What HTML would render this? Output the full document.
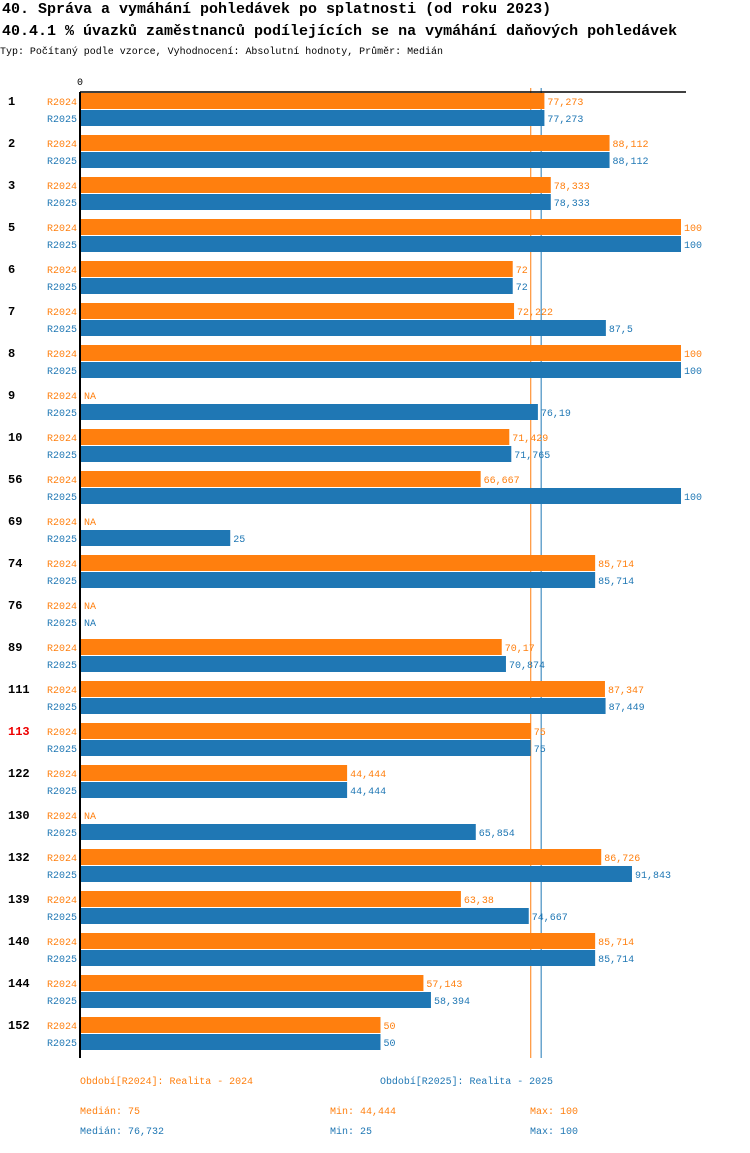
<!DOCTYPE html>
<html><head><meta charset="utf-8">
<style>
body{margin:0;background:#fff;}
svg text{font-family:"Liberation Mono","DejaVu Sans Mono",monospace;}
</style></head>
<body>
<svg id="chart" width="750" height="1148" xmlns="http://www.w3.org/2000/svg">
<text x="2" y="13" font-size="15" font-weight="bold">40. Správa a vymáhání pohledávek po splatnosti (od roku 2023)</text>
<text x="2" y="35" font-size="15" font-weight="bold">40.4.1 % úvazků zaměstnanců podílejících se na vymáhání daňových pohledávek</text>
<text x="0" y="54" font-size="10" textLength="443" lengthAdjust="spacingAndGlyphs">Typ: Počítaný podle vzorce, Vyhodnocení: Absolutní hodnoty, Průměr: Medián</text>
<text x="77" y="85" font-size="10">0</text>
<g id="medians"></g>
<g id="bars"></g>
<line x1="80" y1="92" x2="686" y2="92" stroke="#000" stroke-width="1.5"/>
<line x1="80" y1="92" x2="80" y2="1058" stroke="#000" stroke-width="2"/>
<g font-size="10">
<text x="80" y="1084" fill="#ff7f0e" textLength="173" lengthAdjust="spacingAndGlyphs">Období[R2024]: Realita - 2024</text>
<text x="380" y="1084" fill="#1f77b4" textLength="173" lengthAdjust="spacingAndGlyphs">Období[R2025]: Realita - 2025</text>
<text x="80" y="1114" fill="#ff7f0e">Medián: 75</text>
<text x="330" y="1114" fill="#ff7f0e">Min: 44,444</text>
<text x="530" y="1114" fill="#ff7f0e">Max: 100</text>
<text x="80" y="1134" fill="#1f77b4">Medián: 76,732</text>
<text x="330" y="1134" fill="#1f77b4">Min: 25</text>
<text x="530" y="1134" fill="#1f77b4">Max: 100</text>
</g>
</svg>
<script>
const categories = ["1","2","3","5","6","7","8","9","10","56","69","74","76","89","111","113","122","130","132","139","140","144","152"];
const values2024 = [77.273,88.112,78.333,100,72,72.222,100,null,71.429,66.667,null,85.714,null,70.17,87.347,75,44.444,null,86.726,63.38,85.714,57.143,50];
const values2025 = [77.273,88.112,78.333,100,72,87.5,100,76.19,71.765,100,25,85.714,null,70.874,87.449,75,44.444,65.854,91.843,74.667,85.714,58.394,50];
const medians = [75,76.732];
const highlighted = ["113"];

const NS="http://www.w3.org/2000/svg";
const g=document.getElementById('bars');
const mg=document.getElementById('medians');
const x=v=>80+v*6.01;
const y0=i=>93+i*42;
const fmt=v=>String(+v.toFixed(3)).replace('.',',');
function mk(tag,attrs){const e=document.createElementNS(NS,tag);for(const k in attrs)e.setAttribute(k,attrs[k]);return e;}
const colors=["#ff7f0e","#1f77b4"];
const series=[values2024,values2025];
const names=["R2024","R2025"];
categories.forEach((c,i)=>{
  const t=mk('text',{x:8,y:y0(i)+12,'font-size':12,'font-weight':'bold',fill:highlighted.includes(c)?'#e00':'#000'});
  t.textContent=c;
  
  
  g.appendChild(t);
  series.forEach((s,k)=>{
    const top=y0(i)+k*17;
    const lab=mk('text',{x:77,y:top+12,'font-size':10,'text-anchor':'end',fill:colors[k]});
    lab.textContent=names[k];
    
    
    g.appendChild(lab);
    const v=s[i];
    if(v!==null){
      const r=mk('rect',{x:80,y:top,width:x(v)-80,height:16,fill:colors[k]});
      
      
      g.appendChild(r);
    }
    const vt=mk('text',{x:v===null?84:x(v)+3,y:top+12,'font-size':10,fill:colors[k]});
    vt.textContent=v===null?'NA':fmt(v);
    
    
    g.appendChild(vt);
  });
});
medians.forEach((m,k)=>{
  const l=mk('line',{x1:x(m),x2:x(m),y1:88,y2:1058,stroke:colors[k],'stroke-width':1});
  
  
  mg.appendChild(l);
});
</script>
</body></html>
